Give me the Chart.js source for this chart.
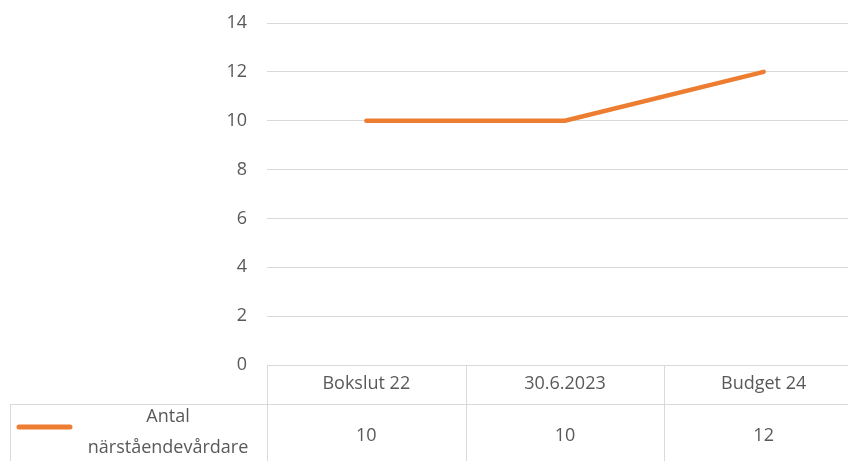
<!DOCTYPE html>
<html>
<head>
<meta charset="utf-8">
<script src="https://cdn.jsdelivr.net/npm/chart.js@4/dist/chart.umd.min.js"></script>
<style>
  html, body { margin: 0; padding: 0; background: #fff; overflow: hidden; }
  #wrap { width: 864px; height: 461px; }
</style>
</head>
<body>
<div id="wrap"><canvas id="chart"></canvas></div>
<script>
var categories = ['Bokslut 22', '30.6.2023', 'Budget 24'];
var values = [10, 10, 12];
var seriesName = ['Antal', 'närståendevårdare'];

var lineColor = '#ED7D31';
var textColor = '#595959';
var gridColor = '#d9d9d9';
var font = '"Open Sans", "Noto Sans", sans-serif';

// data table under the plot, drawn from the x scale
var dataTable = {
    id: 'dataTable',
    afterDraw: function (chart) {
        var ctx = chart.ctx;
        var x = chart.scales.x;
        var area = chart.chartArea;
        var top = area.bottom;
        var mid = top + 39;
        var bottom = chart.height;
        var half = (x.getPixelForValue(1) - x.getPixelForValue(0)) / 2;

        ctx.save();
        ctx.strokeStyle = gridColor;
        ctx.lineWidth = 1;
        ctx.beginPath();
        // row separator
        ctx.moveTo(10, mid + 0.5);
        ctx.lineTo(area.right, mid + 0.5);
        // left edge of row header
        ctx.moveTo(10.5, mid);
        ctx.lineTo(10.5, bottom);
        // column borders
        for (var i = 0; i < categories.length; i++) {
            var bx = Math.round(x.getPixelForValue(i) - half) + 0.5;
            ctx.moveTo(bx, top);
            ctx.lineTo(bx, bottom);
        }
        ctx.stroke();

        ctx.fillStyle = textColor;
        ctx.font = '18px ' + font;
        ctx.textAlign = 'center';
        ctx.textBaseline = 'middle';
        for (var j = 0; j < categories.length; j++) {
            var cx = x.getPixelForValue(j);
            ctx.fillText(categories[j], cx, top + 19);
            ctx.fillText(String(values[j]), cx, mid + 32);
        }

        // legend key + series name
        ctx.strokeStyle = lineColor;
        ctx.lineWidth = 5;
        ctx.lineCap = 'round';
        ctx.beginPath();
        ctx.moveTo(19, mid + 23);
        ctx.lineTo(70, mid + 23);
        ctx.stroke();
        ctx.fillText(seriesName[0], 168, mid + 13);
        ctx.fillText(seriesName[1], 168, mid + 44);
        ctx.restore();
    }
};

new Chart(document.getElementById('chart'), {
    type: 'line',
    data: {
        labels: categories,
        datasets: [{
            label: seriesName.join(' '),
            data: values,
            borderColor: lineColor,
            backgroundColor: lineColor,
            borderWidth: 4.5,
            borderCapStyle: 'round',
            pointRadius: 0,
            tension: 0
        }]
    },
    options: {
        responsive: true,
        maintainAspectRatio: false,
        animation: false,
        layout: { padding: { top: 23, right: 1, bottom: 96, left: 0 } },
        plugins: {
            legend: { display: false },
            tooltip: { enabled: false }
        },
        scales: {
            x: {
                offset: true,
                display: false
            },
            y: {
                min: 0,
                max: 14,
                ticks: {
                    stepSize: 2,
                    color: textColor,
                    font: { family: font, size: 18 },
                    padding: 20
                },
                grid: { color: gridColor, drawTicks: false },
                border: { display: false },
                afterFit: function (scale) {
                    scale.width = 267;
                    scale.paddingTop = 0;
                    scale.paddingBottom = 0;
                }
            }
        }
    },
    plugins: [dataTable]
});
</script>
</body>
</html>
